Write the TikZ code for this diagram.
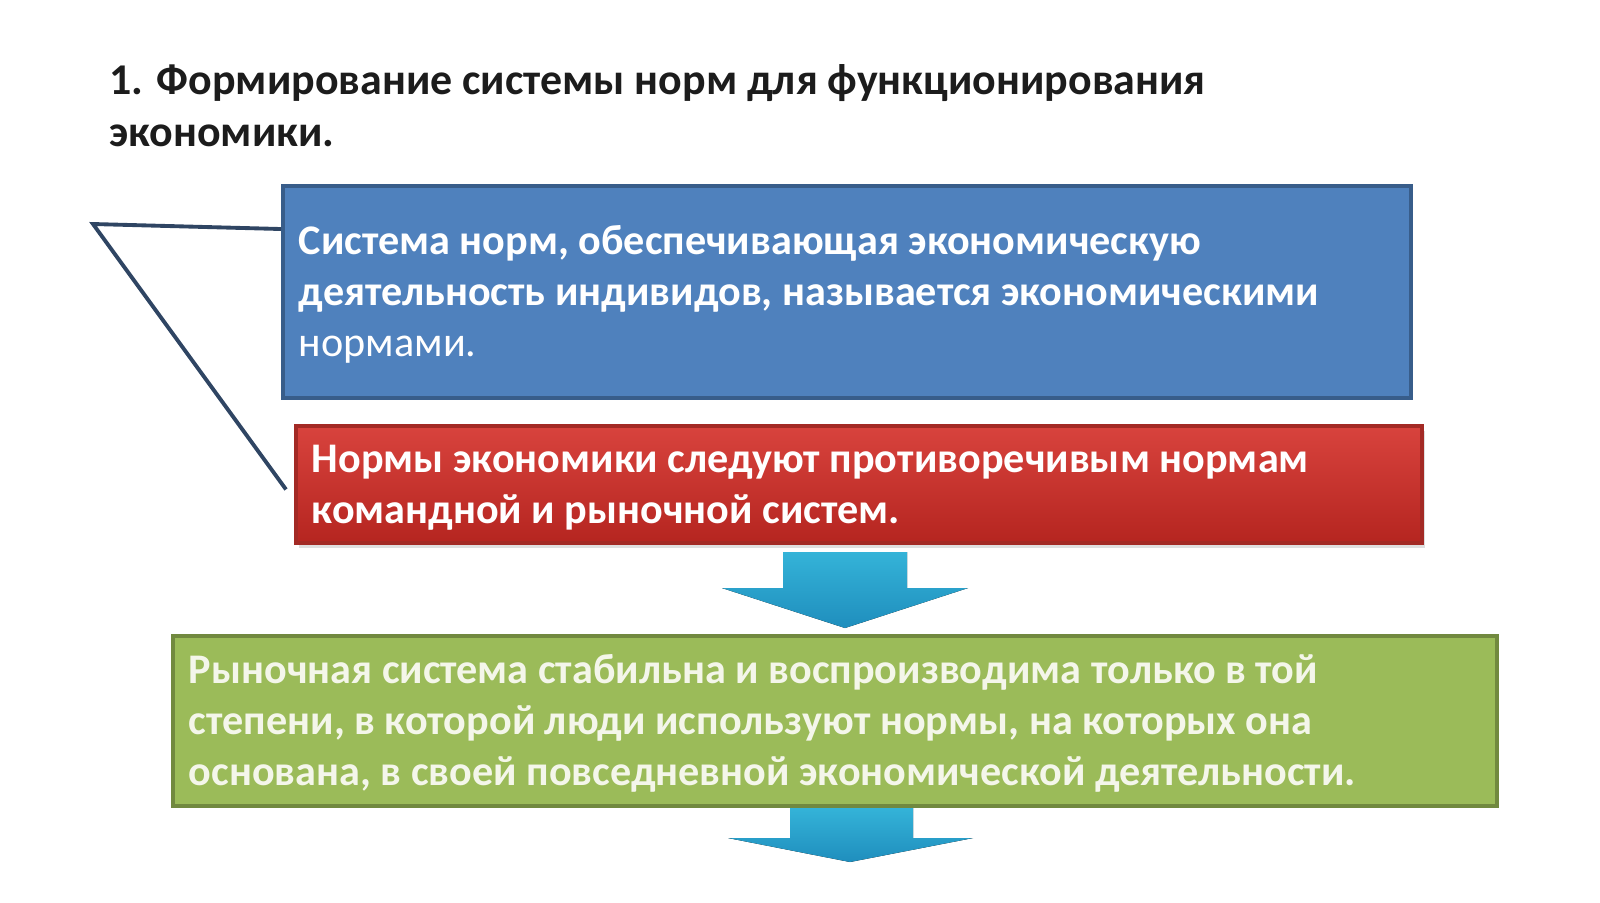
\documentclass[tikz,border=0pt]{standalone}
\usepackage{fontspec}
\setmainfont{Carlito}
\usepackage{xcolor}
\usetikzlibrary{
    calc,
    positioning,
    shadows
}
\definecolor{blueface}{HTML}{4F81BD}
\definecolor{blueedge}{HTML}{385D8A}
\definecolor{redtop}{HTML}{D8433D}
\definecolor{redbot}{HTML}{B52520}
\definecolor{rededge}{HTML}{A32A25}
\definecolor{greenface}{HTML}{9BBB59}
\definecolor{greenedge}{HTML}{71893F}
\definecolor{greentext}{HTML}{F4F6EA}
\definecolor{arrtop}{HTML}{34B3D8}
\definecolor{arrbot}{HTML}{1F8EBD}
\definecolor{linkline}{HTML}{2F4563}
\definecolor{titletext}{HTML}{1C1C1C}
\newcommand{\toppad}{\rule{0pt}{0.34cm}}
\tikzset{
    textbox/.style={anchor=north west, align=flush left, inner xsep=0.16cm,
        line width=1.1pt, text=white,
        font=\bfseries\fontsize{12}{14.6}\selectfont},
    downarrow/.style={shade, top color=arrtop, bottom color=arrbot, draw=none}
}

\begin{document}
\begin{tikzpicture}
        \useasboundingbox (0,0) rectangle (16,-9.02);

        \draw (0.97,-0.52) node[anchor=north west, align=left, text=titletext,
            font=\bfseries\fontsize{12.5}{14.8}\selectfont](title){1. Формирование системы норм для функционирования\\экономики.};

        \draw (2.81,-1.84) node[textbox, draw=blueedge, fill=blueface,
            minimum width=11.28cm, minimum height=2.12cm, text width=10.96cm](norms){\toppad Система норм, обеспечивающая экономическую\\деятельность индивидов, называется экономическими\\{\mdseries нормами.}};

        \draw (2.94,-4.24) node[textbox, draw=rededge, top color=redtop, bottom color=redbot,
            drop shadow={opacity=0.25, shadow xshift=0.03cm, shadow yshift=-0.05cm},
            minimum width=11.26cm, minimum height=1.17cm, text width=10.94cm](conflict){\toppad Нормы экономики следуют противоречивым нормам\\командной и рыночной систем.};

        \draw (1.71,-6.34) node[textbox, draw=greenedge, fill=greenface, text=greentext,
            minimum width=13.24cm, minimum height=1.70cm, text width=12.92cm](market){\toppad Рыночная система стабильна и воспроизводима только в той\\степени, в которой люди используют нормы, на которых она\\основана, в своей повседневной экономической деятельности.};

        \coordinate (corner) at (0.93,-2.24);
        \draw[linkline, line width=1.1pt] ($(norms.north west)+(0,-0.45)$) -- (corner) -- ($(conflict.west)+(-0.08,-0.05)$);

        % block arrows
        \fill[downarrow] (7.83,-5.52) -- (9.07,-5.52) -- (9.07,-5.88) -- (9.68,-5.88)
            -- (8.45,-6.28) -- (7.22,-5.88) -- (7.83,-5.88) -- cycle;
        \fill[downarrow] (7.90,-8.08) -- (9.13,-8.08) -- (9.13,-8.38) -- (9.73,-8.38)
            -- (8.50,-8.62) -- (7.28,-8.38) -- (7.90,-8.38) -- cycle;
    \end{tikzpicture}
\end{document}
